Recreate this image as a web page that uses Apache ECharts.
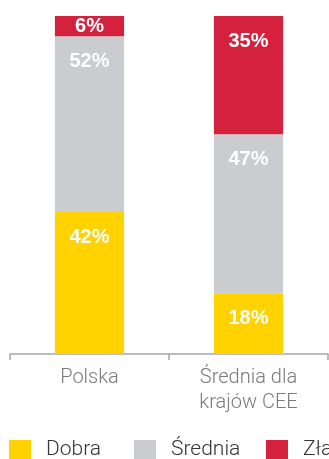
<!DOCTYPE html>
<html>
<head>
<meta charset="utf-8">
<script src="https://cdn.jsdelivr.net/npm/echarts@6/dist/echarts.min.js"></script>
<style>
  html, body { margin: 0; padding: 0; background: #fff; }
  #chart { width: 329px; height: 459px; }
</style>
</head>
<body>
<div id="chart"></div>
<script>
// Share of ratings per region (percent)
const categories = ['Polska', 'Średnia dla\nkrajów CEE'];
const seriesNames = ['Dobra', 'Średnia', 'Zła'];
const dobra = [42, 18];
const srednia = [52, 47];
const zla = [6, 35];

const colors = ['#FFD200', '#CBCCCF', '#D4213D'];
const FONT = 'Roboto, "Liberation Sans", Arial, sans-serif';

const valueLabel = {
  show: true,
  position: 'insideTop',
  distance: 15,
  color: '#fff',
  fontWeight: 'bold',
  fontSize: 20,
  fontFamily: 'Liberation Sans, Arial, sans-serif',
  formatter: p => p.value + '%'
};

function toItems(values) {
  // thin segments get the label centred instead of pinned to the top
  return values.map(v => v < 10 ? { value: v, label: { position: 'inside' } } : v);
}

const series = [dobra, srednia, zla].map((vals, i) => ({
  name: seriesNames[i],
  type: 'bar',
  stack: 'total',
  barWidth: '43.5%',
  itemStyle: { color: colors[i] },
  label: valueLabel,
  data: toItems(vals)
}));

const legendLefts = [9, 134, 266];
const legends = seriesNames.map((n, i) => ({
  data: [n],
  left: legendLefts[i],
  top: 439,
  padding: 0,
  itemWidth: 22,
  itemHeight: 20,
  itemGap: 0,
  icon: 'rect',
  selectedMode: false,
  textStyle: { color: '#333', fontSize: 21, lineHeight: 22, fontFamily: FONT, fontWeight: 300, padding: [0, 0, 0, 10] }
}));

const chart = echarts.init(document.getElementById('chart'), null, { renderer: 'canvas' });
chart.setOption({
  animation: false,
  grid: { left: 10, right: 1, top: 16, bottom: 105, containLabel: false },
  legend: legends,
  xAxis: {
    type: 'category',
    data: categories,
    axisLine: { lineStyle: { color: '#A7A7AB', width: 1.5 } },
    axisTick: { show: true, length: 6, lineStyle: { color: '#A7A7AB', width: 1.5 } },
    axisLabel: {
      color: '#7a7a7a',
      fontSize: 20,
      fontFamily: FONT,
      fontWeight: 300,
      lineHeight: 25,
      margin: 11
    }
  },
  yAxis: {
    type: 'value',
    min: 0,
    max: 100,
    show: false
  },
  series: series
});
</script>
</body>
</html>
